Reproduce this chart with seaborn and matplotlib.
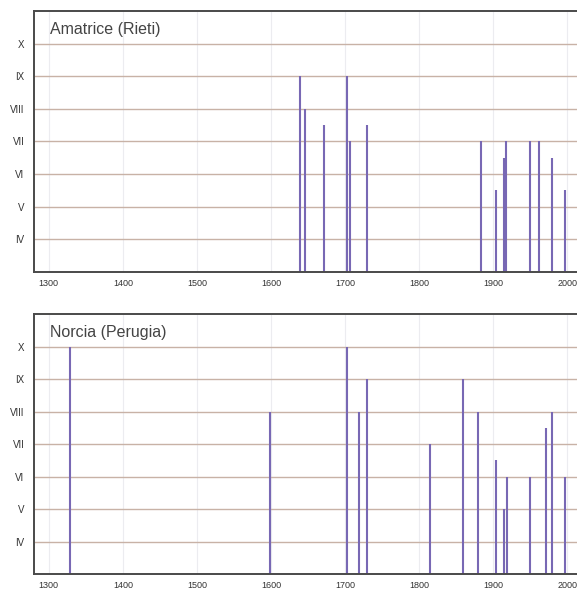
import matplotlib
matplotlib.use("Agg")
import matplotlib.pyplot as plt
import seaborn as sns
import pandas as pd

# ---- data ----
amatrice_years = [1639, 1646, 1672, 1703, 1707, 1730, 1883, 1904, 1915, 1917, 1950, 1962, 1979, 1997]
amatrice_int = [9, 8, 7.5, 9, 7, 7.5, 7, 5.5, 6.5, 7, 7, 7, 6.5, 5.5]

norcia_years = [1328, 1599, 1703, 1719, 1730, 1815, 1859, 1879, 1904, 1915, 1918, 1950, 1971, 1979, 1997]
norcia_int = [10, 8, 10, 8, 9, 7, 9, 8, 6.5, 5, 6, 6, 7.5, 8, 6]

panel_titles = ["Amatrice (Rieti)", "Norcia (Perugia)"]
x_ticks = [1300, 1400, 1500, 1600, 1700, 1800, 1900, 2000]
y_ticks = [4, 5, 6, 7, 8, 9, 10]
y_labels = ["IV", "V", "VI", "VII", "VIII", "IX", "X"]

sns.set_theme(style="white")
plt.rcParams["font.family"] = ["Liberation Sans", "DejaVu Sans"]

BAR = "#7868b4"
GRID = "#c8b2a6"
VGRID = "#ececf0"
SPINE = "#4a4a4a"

fig = plt.figure(figsize=(5.77, 5.92), dpi=100)
fig.patch.set_facecolor("white")
ax1 = fig.add_axes([0.0589, 0.541, 1.0 - 0.0589, 0.9814 - 0.541])
ax2 = fig.add_axes([0.0589, 0.0299, 1.0 - 0.0589, 0.4696 - 0.0299])

datasets = [(amatrice_years, amatrice_int), (norcia_years, norcia_int)]

for ax, (yrs, ints), title in zip([ax1, ax2], datasets, panel_titles):
    df = pd.DataFrame({"year": yrs, "intensity": ints})
    ax.set_facecolor("white")
    for xv in x_ticks:
        ax.axvline(xv, color=VGRID, lw=0.8, zorder=0)
    for yv in y_ticks:
        ax.axhline(yv, color=GRID, lw=1.0, zorder=1)
    sns.barplot(data=df, x="year", y="intensity", native_scale=True, width=0.001,
                color=BAR, edgecolor=BAR, linewidth=1.5, saturation=1,
                errorbar=None, ax=ax, zorder=3)
    ax.set_xlim(1280, 2013)
    ax.set_ylim(3, 11)
    ax.set_xticks(x_ticks)
    ax.set_xticklabels([str(t) for t in x_ticks], fontsize=6.5, color="#333333")
    ax.set_yticks(y_ticks)
    ax.set_yticklabels(y_labels, fontsize=7, color="#333333")
    ax.tick_params(axis="both", length=0)
    ax.tick_params(axis="y", pad=7)
    ax.tick_params(axis="x", pad=5)
    ax.set_xlabel("")
    ax.set_ylabel("")
    ax.grid(False)
    for side in ["left", "top", "bottom"]:
        ax.spines[side].set_color(SPINE)
        ax.spines[side].set_linewidth(1.4)
        ax.spines[side].set_zorder(5)
    ax.spines["right"].set_visible(False)
    ax.text(0.03, 0.93, title, transform=ax.transAxes, fontsize=11.5,
            color="#444444", ha="left", va="center")

fig.savefig("out.png", dpi=100, facecolor="white")
